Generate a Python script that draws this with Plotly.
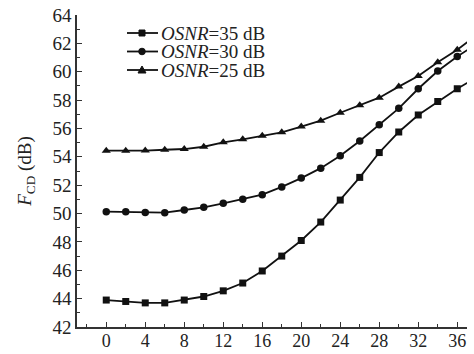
import plotly.graph_objects as go

x = [0, 2, 4, 6, 8, 10, 12, 14, 16, 18, 20, 22, 24, 26, 28, 30, 32, 34, 36, 38]
osnr35 = [43.9, 43.8, 43.7, 43.7, 43.9, 44.15, 44.55, 45.1, 45.95, 47.0, 48.1, 49.4, 50.95, 52.55, 54.3, 55.75, 56.95, 57.9, 58.8, 59.6]
osnr30 = [50.13, 50.12, 50.07, 50.06, 50.25, 50.44, 50.72, 51.0, 51.33, 51.88, 52.5, 53.2, 54.08, 55.12, 56.27, 57.42, 58.8, 60.05, 61.08, 61.95]
osnr25 = [54.43, 54.43, 54.44, 54.5, 54.55, 54.71, 55.02, 55.23, 55.49, 55.73, 56.13, 56.55, 57.11, 57.63, 58.17, 58.95, 59.7, 60.67, 61.55, 62.6]
names = ["<i>OSNR</i>=35 dB", "<i>OSNR</i>=30 dB", "<i>OSNR</i>=25 dB"]
symbols = ["square", "circle", "triangle-up"]
sizes = [7, 7.5, 8]
xticks = [0, 4, 8, 12, 16, 20, 24, 28, 32, 36]
yticks = [42, 44, 46, 48, 50, 52, 54, 56, 58, 60, 62, 64]

FONT = "Liberation Serif, Times New Roman, serif"
INK = "#111111"
fig = go.Figure()
for ys, nm, sym, sz in zip([osnr35, osnr30, osnr25], names, symbols, sizes):
    fig.add_trace(go.Scatter(
        x=x, y=ys, name=nm, mode="lines+markers",
        line=dict(color=INK, width=1.8),
        marker=dict(symbol=sym, size=sz, color=INK),
        cliponaxis=True, showlegend=False,
    ))

# hand-built legend (compact rows as in the reference)
L, R, T, B = 77, 467, 15, 327
W, H = R - L, B - T
rows_px = [33, 51.5, 70]
shapes = []
annotations = []
for i, (nm, sym) in enumerate(zip(names, symbols)):
    yp = (B - rows_px[i]) / H
    shapes.append(dict(type="line", xref="paper", yref="paper",
                       x0=(127 - L) / W, x1=(158 - L) / W, y0=yp, y1=yp,
                       line=dict(color=INK, width=1.8)))
    xa = (142 - L) / W
    if sym == "square":
        shapes.append(dict(type="rect", xref="paper", yref="paper", xsizemode="pixel", ysizemode="pixel",
                           xanchor=xa, yanchor=yp, x0=-3, x1=3, y0=-3, y1=3,
                           fillcolor=INK, line=dict(color=INK, width=1)))
    elif sym == "circle":
        shapes.append(dict(type="circle", xref="paper", yref="paper", xsizemode="pixel", ysizemode="pixel",
                           xanchor=xa, yanchor=yp, x0=-3.3, x1=3.3, y0=-3.3, y1=3.3,
                           fillcolor=INK, line=dict(color=INK, width=1)))
    else:
        shapes.append(dict(type="path", xref="paper", yref="paper", xsizemode="pixel", ysizemode="pixel",
                           xanchor=xa, yanchor=yp, path="M -4 -3 L 4 -3 L 0 4 Z",
                           fillcolor=INK, line=dict(color=INK, width=1)))
    annotations.append(dict(text=nm, xref="paper", yref="paper", x=(159 - L) / W, y=yp,
                            xanchor="left", yanchor="middle", showarrow=False,
                            font=dict(family=FONT, size=19, color="#222222")))

axis_common = dict(
    showline=True, linecolor="#333333", linewidth=1.5,
    ticks="inside", ticklen=5, tickwidth=1.2, tickcolor="#333333",
    showgrid=False, zeroline=False, mirror=False, automargin=False,
)
fig.update_xaxes(range=[-3, 37], tickvals=xticks, ticklabelstandoff=-3,
                 tickfont=dict(family=FONT, size=18, color="#222222"),
                 minor=dict(dtick=2, tick0=0, ticks="inside", ticklen=3, tickcolor="#333333", tickwidth=1.2),
                 **axis_common)
fig.update_yaxes(range=[42, 64], tickvals=yticks,
                 tickfont=dict(family=FONT, size=19, color="#222222"),
                 minor=dict(dtick=1, tick0=0, ticks="inside", ticklen=3, tickcolor="#333333", tickwidth=1.2),
                 title=dict(text="<i>F</i><sub>CD</sub> (dB)", font=dict(family=FONT, size=19, color="#222222"), standoff=16),
                 **axis_common)
fig.update_layout(
    width=474, height=354,
    margin=dict(l=L, r=474 - R, t=T, b=354 - B),
    paper_bgcolor="white", plot_bgcolor="white",
    font=dict(family=FONT, color="#222222"),
    shapes=shapes, annotations=annotations,
    showlegend=False,
)
fig.write_html("out.html")
